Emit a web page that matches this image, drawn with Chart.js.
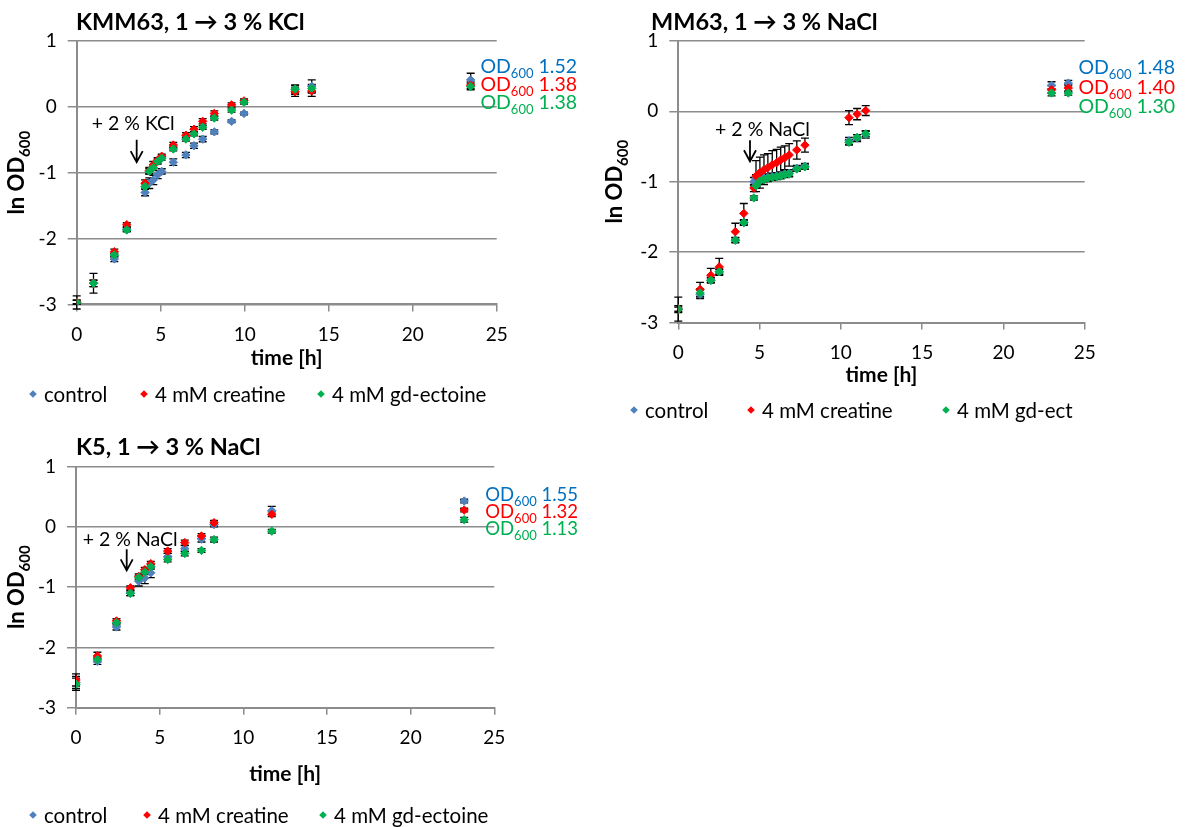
<!DOCTYPE html>
<html>
<head>
<meta charset="utf-8">
<script src="https://cdn.jsdelivr.net/npm/chart.js@4.4.1/dist/chart.umd.min.js"></script>
<style>
  html, body { margin: 0; padding: 0; background: #fff; }
  body { width: 1195px; height: 827px; position: relative; overflow: hidden; }
  canvas { position: absolute; }
</style>
</head>
<body>
<canvas id="kmm63" width="600" height="420" style="left:0;top:0"></canvas>
<canvas id="mm63" width="595" height="430" style="left:600px;top:0"></canvas>
<canvas id="k5" width="600" height="407" style="left:0;top:420px"></canvas>
<script>
// ---- growth data: ln OD600 vs. time [h] ----
// KMM63, 1 -> 3 % KCl
const hoursKMM63 = [0, 1.0, 2.24, 2.98, 4.07, 4.32, 4.56, 4.82, 5.06, 5.75, 6.5, 6.98, 7.5, 8.19, 9.22, 9.96, 13.0, 13.99, 23.45];
const controlKMM63  = [-2.97, -2.68, -2.31, -1.86, -1.30, -1.16, -1.11, -1.03, -0.98, -0.84, -0.73, -0.59, -0.49, -0.38, -0.22, -0.10, 0.26, 0.31, 0.41];
const creatineKMM63 = [-2.96, -2.68, -2.20, -1.79, -1.16, -0.97, -0.88, -0.81, -0.75, -0.58, -0.43, -0.34, -0.22, -0.10, 0.03, 0.09, 0.23, 0.24, 0.33];
const ectoineKMM63  = [-2.97, -2.68, -2.25, -1.87, -1.21, -0.98, -0.92, -0.83, -0.78, -0.64, -0.49, -0.41, -0.31, -0.17, -0.05, 0.07, 0.27, 0.28, 0.31];
const controlErrKMM63  = [0.10, 0.15, 0.04, 0.03, 0.05, 0.08, 0.07, 0.06, 0.04, 0.05, 0.04, 0.04, 0.04, 0.03, 0.02, 0.02, 0.07, 0.10, 0.10];
const creatineErrKMM63 = [0.03, 0.05, 0.04, 0.03, 0.05, 0.05, 0.05, 0.04, 0.03, 0.04, 0.04, 0.04, 0.04, 0.04, 0.03, 0.03, 0.07, 0.08, 0.05];
const ectoineErrKMM63  = [0.03, 0.05, 0.03, 0.03, 0.04, 0.04, 0.04, 0.04, 0.03, 0.03, 0.03, 0.03, 0.03, 0.03, 0.03, 0.03, 0.06, 0.06, 0.05];
const finalOdKMM63 = ['1.52', '1.38', '1.38'];

// MM63, 1 -> 3 % NaCl
const hoursMM63 = [0, 1.34, 2.0, 2.52, 3.51, 4.03, 4.65, 4.78, 5.02, 5.27, 5.51, 5.78, 6.05, 6.30, 6.55, 6.82, 7.29, 7.79, 10.5, 11.0, 11.53, 22.96, 23.99];
const controlMM63  = [-2.81, -2.60, -2.40, -2.28, -1.83, -1.58, -1.00, -0.95, -0.96, -0.95, -0.94, -0.93, -0.92, -0.91, -0.89, -0.88, -0.81, -0.78, -0.42, -0.38, -0.33, 0.37, 0.40];
const creatineMM63 = [-2.81, -2.53, -2.33, -2.21, -1.71, -1.45, -1.09, -0.92, -0.87, -0.83, -0.80, -0.76, -0.73, -0.69, -0.66, -0.62, -0.55, -0.48, -0.09, -0.04, 0.01, 0.31, 0.33];
const ectoineMM63  = [-2.81, -2.58, -2.40, -2.28, -1.83, -1.58, -1.23, -1.06, -0.99, -0.97, -0.95, -0.94, -0.93, -0.92, -0.90, -0.89, -0.82, -0.79, -0.44, -0.37, -0.32, 0.26, 0.26];
const controlErrMM63  = [0.05, 0.06, 0.04, 0.04, 0.04, 0.04, 0.06, 0.05, 0.05, 0.05, 0.05, 0.05, 0.05, 0.05, 0.05, 0.05, 0.04, 0.04, 0.05, 0.05, 0.05, 0.05, 0.04];
const creatineErrMM63 = [0.17, 0.10, 0.10, 0.12, 0.12, 0.14, 0.05, 0.22, 0.22, 0.21, 0.20, 0.20, 0.19, 0.18, 0.17, 0.16, 0.13, 0.10, 0.10, 0.08, 0.07, 0.05, 0.05];
const ectoineErrMM63  = [0.03, 0.06, 0.03, 0.03, 0.03, 0.03, 0.03, 0.03, 0.03, 0.03, 0.03, 0.03, 0.03, 0.03, 0.03, 0.03, 0.03, 0.03, 0.04, 0.04, 0.04, 0.04, 0.03];
const finalOdMM63 = ['1.48', '1.40', '1.30'];

// K5, 1 -> 3 % NaCl
const hoursK5 = [0, 1.28, 2.42, 3.25, 3.75, 4.11, 4.47, 5.48, 6.5, 7.5, 8.25, 11.7, 23.2];
const controlK5  = [-2.58, -2.23, -1.66, -1.10, -0.90, -0.85, -0.76, -0.49, -0.36, -0.20, 0.04, 0.27, 0.43];
const creatineK5 = [-2.54, -2.14, -1.56, -1.01, -0.82, -0.71, -0.61, -0.40, -0.26, -0.15, 0.07, 0.21, 0.28];
const ectoineK5  = [-2.61, -2.20, -1.59, -1.10, -0.84, -0.75, -0.66, -0.54, -0.44, -0.39, -0.21, -0.07, 0.12];
const controlErrK5  = [0.10, 0.05, 0.05, 0.04, 0.08, 0.09, 0.08, 0.05, 0.05, 0.05, 0.04, 0.07, 0.03];
const creatineErrK5 = [0.10, 0.06, 0.04, 0.03, 0.04, 0.04, 0.04, 0.04, 0.04, 0.04, 0.04, 0.04, 0.03];
const ectoineErrK5  = [0.10, 0.04, 0.04, 0.04, 0.04, 0.04, 0.04, 0.04, 0.04, 0.03, 0.04, 0.03, 0.04];
const finalOdK5 = ['1.55', '1.32', '1.13'];

// shared axis settings
const timeRange = [0, 25];
const timeStep = 5;
const lnRange = [-3, 1];
const lnStep = 1;

const FONT = 'Lato, "Liberation Sans", sans-serif';
const MARKER = { control: '#4F81BD', creatine: '#FF0000', ectoine: '#00B050' };
const LABEL  = { control: '#0070C0', creatine: '#FF0000', ectoine: '#00B050' };
const AXIS_GREY = '#8c8c8c';

function points(xs, ys) { return xs.map((x, i) => ({ x: x, y: ys[i] })); }

function dataset(label, color, xs, ys, errs, order) {
  return {
    label: label, data: points(xs, ys), errors: errs, order: order,
    pointStyle: 'rectRot', pointRadius: 4.2, pointHoverRadius: 4.2,
    backgroundColor: color, borderColor: color, pointBorderWidth: 1, showLine: false
  };
}

// black symmetric error bars, drawn through the chart scales
const errorBars = {
  id: 'errorBars',
  beforeDatasetsDraw(chart) {
    const ctx = chart.ctx, xs = chart.scales.x, ys = chart.scales.y;
    ctx.save();
    ctx.strokeStyle = '#000';
    ctx.lineWidth = 1.3;
    chart.data.datasets.forEach(ds => {
      ds.data.forEach((p, i) => {
        const e = ds.errors[i];
        if (!e) return;
        const x = xs.getPixelForValue(p.x);
        const yTop = ys.getPixelForValue(p.y + e);
        const yBot = ys.getPixelForValue(p.y - e);
        ctx.beginPath();
        ctx.moveTo(x, yTop); ctx.lineTo(x, yBot);
        ctx.moveTo(x - 4, yTop); ctx.lineTo(x + 4, yTop);
        ctx.moveTo(x - 4, yBot); ctx.lineTo(x + 4, yBot);
        ctx.stroke();
      });
    });
    ctx.restore();
  }
};

function diamond(ctx, x, y, r, color) {
  ctx.beginPath();
  ctx.moveTo(x, y - r); ctx.lineTo(x + r, y); ctx.lineTo(x, y + r); ctx.lineTo(x - r, y);
  ctx.closePath();
  ctx.fillStyle = color;
  ctx.fill();
}

// text with a subscript part: [main, sub, tail]
function subText(ctx, parts, x, y, size, subSize, weight, align) {
  const main = weight + ' ' + size + 'px ' + FONT;
  const sub = weight + ' ' + subSize + 'px ' + FONT;
  ctx.font = main; const w1 = ctx.measureText(parts[0]).width;
  ctx.font = sub;  const w2 = ctx.measureText(parts[1]).width;
  ctx.font = main; const w3 = parts[2] ? ctx.measureText(parts[2]).width : 0;
  const total = w1 + w2 + w3;
  let sx = align === 'right' ? x - total : align === 'center' ? x - total / 2 : x;
  ctx.textAlign = 'left';
  ctx.textBaseline = 'alphabetic';
  ctx.font = main; ctx.fillText(parts[0], sx, y);
  ctx.font = sub;  ctx.fillText(parts[1], sx + w1, y + size * 0.28);
  if (parts[2]) { ctx.font = main; ctx.fillText(parts[2], sx + w1 + w2, y); }
}

function decorations(d) {
  return {
    id: 'decor',
    afterDraw(chart) {
      const ctx = chart.ctx, xs = chart.scales.x, ys = chart.scales.y, a = chart.chartArea;
      ctx.save();
      ctx.fillStyle = '#000';
      // panel title
      ctx.font = 'bold ' + d.titleSize + 'px ' + FONT;
      ctx.textAlign = 'left'; ctx.textBaseline = 'alphabetic';
      ctx.fillText(d.title, d.titleX, d.titleY);

      // salt addition note and arrow, placed in data coordinates
      ctx.font = d.noteSize + 'px ' + FONT;
      ctx.fillText(d.note, xs.getPixelForValue(d.noteAt[0]), ys.getPixelForValue(d.noteAt[1]));
      const ax = xs.getPixelForValue(d.arrowAt[0]);
      const ay1 = ys.getPixelForValue(d.arrowAt[1]);
      const ay2 = ys.getPixelForValue(d.arrowAt[2]);
      ctx.strokeStyle = '#000'; ctx.lineWidth = 1.8;
      ctx.beginPath();
      ctx.moveTo(ax, ay1); ctx.lineTo(ax, ay2);
      ctx.moveTo(ax - 6, ay2 - 11); ctx.lineTo(ax, ay2); ctx.lineTo(ax + 6, ay2 - 11);
      ctx.stroke();

      // final OD600 values
      const cols = [LABEL.control, LABEL.creatine, LABEL.ectoine];
      d.odValues.forEach((v, i) => {
        ctx.fillStyle = cols[i];
        subText(ctx, ['OD', '600', ' ' + v], d.odRight, d.odY[i], d.odSize, Math.round(d.odSize * 0.68), 'normal', 'right');
      });

      // axis titles
      ctx.fillStyle = '#000';
      ctx.save();
      ctx.translate(d.yTitleX, (a.top + a.bottom) / 2);
      ctx.rotate(-Math.PI / 2);
      subText(ctx, ['ln OD', '600', ''], 0, 0, 22, 15, 'bold', 'center');
      ctx.restore();
      ctx.font = 'bold 21px ' + FONT;
      ctx.textAlign = 'center'; ctx.textBaseline = 'middle';
      ctx.fillText('time [h]', (a.left + a.right) / 2, d.xTitleY);

      // legend
      ctx.font = '20.5px ' + FONT;
      ctx.textAlign = 'left'; ctx.textBaseline = 'middle';
      chart.data.datasets.forEach((ds, i) => {
        const lx = d.legendX[i];
        diamond(ctx, lx, d.legendY, 3.8, ds.backgroundColor);
        ctx.fillStyle = '#000';
        ctx.fillText(ds.label, lx + 11, d.legendY + 1);
      });
      ctx.restore();
    }
  };
}

function makePanel(id, area, d, hours, ctrl, crea, ecto, errs, names) {
  const canvas = document.getElementById(id);
  const W = canvas.width, H = canvas.height;
  const yW = 40, xH = 44;
  return new Chart(canvas, {
    type: 'scatter',
    data: {
      datasets: [
        dataset(names[0], MARKER.control, hours, ctrl, errs[0], 3),
        dataset(names[1], MARKER.creatine, hours, crea, errs[1], 2),
        dataset(names[2], MARKER.ectoine, hours, ecto, errs[2], 1)
      ]
    },
    options: {
      responsive: false,
      animation: false,
      devicePixelRatio: 1,
      layout: { padding: { left: area.left - yW, top: area.top, right: W - area.right, bottom: H - area.bottom - xH } },
      plugins: { legend: { display: false }, tooltip: { enabled: false }, title: { display: false } },
      scales: {
        x: {
          type: 'linear', min: timeRange[0], max: timeRange[1],
          afterFit(s) { s.height = xH; },
          ticks: { stepSize: timeStep, color: '#000', padding: 12, font: { family: FONT, size: 19 } },
          grid: { drawOnChartArea: false, drawTicks: true, tickLength: 7, color: AXIS_GREY, lineWidth: 1.5 },
          border: { display: true, color: AXIS_GREY, width: 2 }
        },
        y: {
          type: 'linear', min: lnRange[0], max: lnRange[1],
          afterFit(s) { s.width = yW; },
          ticks: { stepSize: lnStep, color: '#000', padding: 11, font: { family: FONT, size: 19 } },
          grid: { drawOnChartArea: true, drawTicks: true, tickLength: 9, color: AXIS_GREY, lineWidth: 1.5 },
          border: { display: true, color: AXIS_GREY, width: 2 }
        }
      }
    },
    plugins: [errorBars, decorations(d)]
  });
}

makePanel('kmm63',
  { left: 76.7, top: 41, right: 496.7, bottom: 304.4 },
  { title: 'KMM63, 1 \u2192 3 % KCl', titleSize: 23.5, titleX: 76, titleY: 30,
    note: '+ 2 % KCl', noteSize: 19.5, noteAt: [0.89, -0.35], arrowAt: [3.57, -0.5, -0.84],
    odValues: finalOdKMM63, odRight: 577, odY: [72.5, 90.5, 108.5], odSize: 19.5,
    yTitleX: 24, xTitleY: 358, legendX: [33, 144, 321], legendY: 394 },
  hoursKMM63, controlKMM63, creatineKMM63, ectoineKMM63,
  [controlErrKMM63, creatineErrKMM63, ectoineErrKMM63],
  ['control', '4 mM creatine', '4 mM gd-ectoine']);

makePanel('mm63',
  { left: 78.3, top: 40.9, right: 484.7, bottom: 322.5 },
  { title: 'MM63, 1 \u2192 3 % NaCl', titleSize: 23.5, titleX: 51, titleY: 30,
    note: '+ 2 % NaCl', noteSize: 19.5, noteAt: [2.26, -0.35], arrowAt: [4.41, -0.41, -0.71],
    odValues: finalOdMM63, odRight: 575, odY: [73.5, 94, 113], odSize: 19.5,
    yTitleX: 22, xTitleY: 375, legendX: [34, 151, 346], legendY: 410 },
  hoursMM63, controlMM63, creatineMM63, ectoineMM63,
  [controlErrMM63, creatineErrMM63, ectoineErrMM63],
  ['control', '4 mM creatine', '4 mM gd-ect']);

makePanel('k5',
  { left: 76, top: 46.7, right: 494.3, bottom: 287.7 },
  { title: 'K5, 1 \u2192 3 % NaCl', titleSize: 23.5, titleX: 76, titleY: 35,
    note: '+ 2 % NaCl', noteSize: 19.5, noteAt: [0.4, -0.32], arrowAt: [3.03, -0.37, -0.72],
    odValues: finalOdK5, odRight: 578, odY: [81, 98, 115], odSize: 18.5,
    yTitleX: 24, xTitleY: 354, legendX: [33, 147, 323], legendY: 395 },
  hoursK5, controlK5, creatineK5, ectoineK5,
  [controlErrK5, creatineErrK5, ectoineErrK5],
  ['control', '4 mM creatine', '4 mM gd-ectoine']);
</script>
</body>
</html>
